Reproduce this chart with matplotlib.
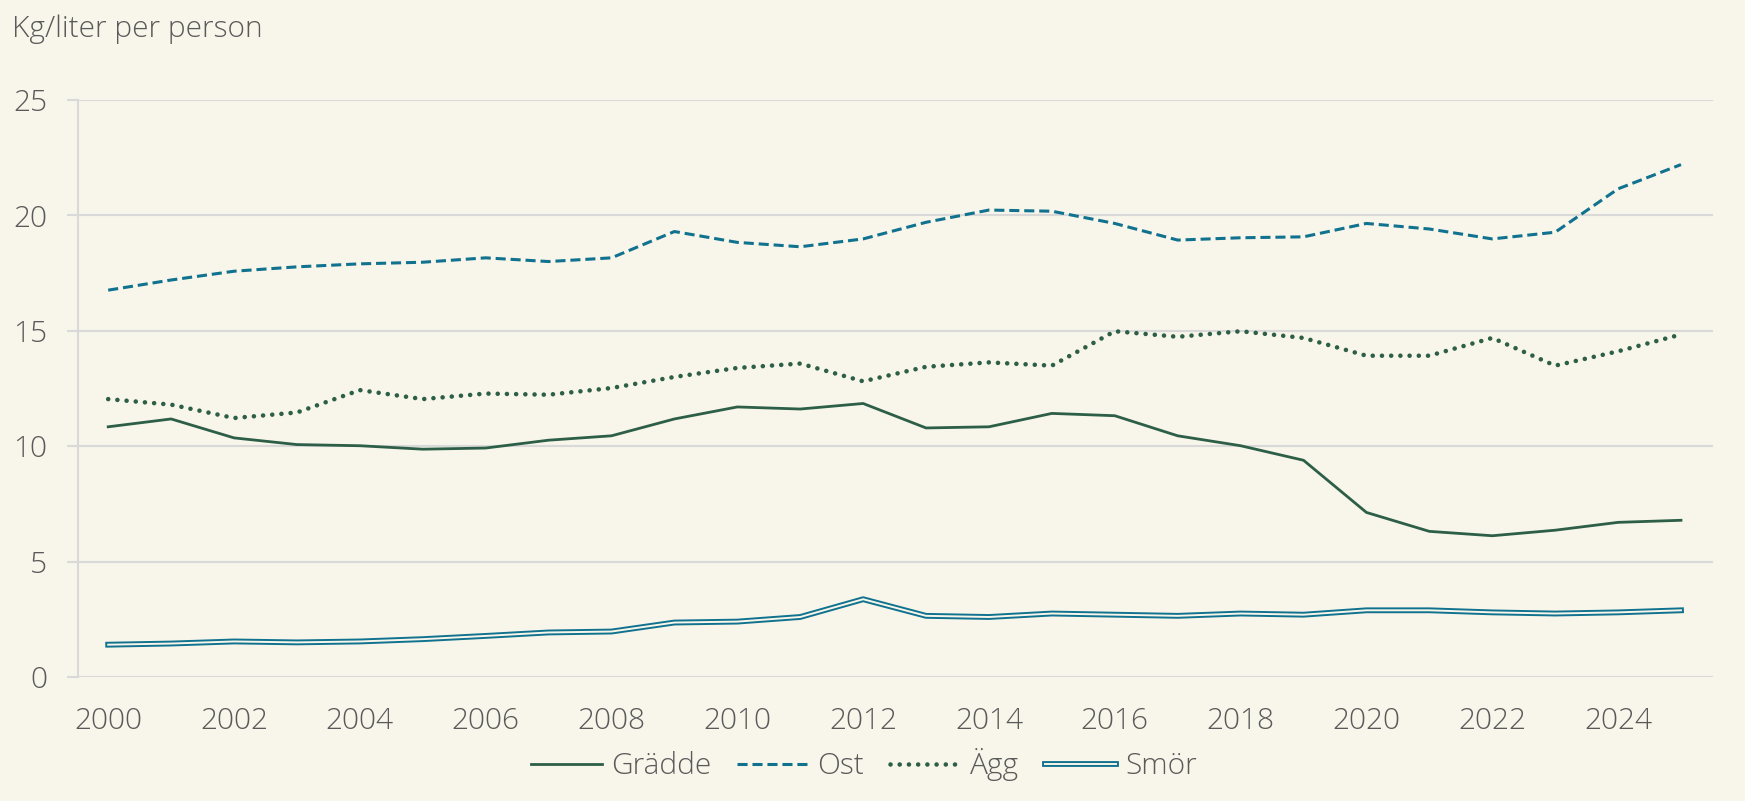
import matplotlib
matplotlib.use("Agg")
import matplotlib.pyplot as plt
import matplotlib.patheffects as pe

# data
years = list(range(2000, 2026))
gradde = [10.84, 11.18, 10.36, 10.07, 10.02, 9.87, 9.92, 10.26, 10.45, 11.18,
          11.70, 11.61, 11.85, 10.79, 10.84, 11.42, 11.32, 10.45, 10.02, 9.39,
          7.13, 6.31, 6.12, 6.36, 6.70, 6.79]
ost = [16.76, 17.20, 17.58, 17.77, 17.90, 17.97, 18.16, 18.00, 18.16, 19.30,
       18.83, 18.64, 18.98, 19.70, 20.23, 20.18, 19.65, 18.93, 19.03, 19.07,
       19.65, 19.41, 18.98, 19.27, 21.15, 22.20]
agg = [12.04, 11.80, 11.22, 11.46, 12.43, 12.04, 12.28, 12.23, 12.52, 13.00,
       13.39, 13.58, 12.81, 13.44, 13.63, 13.49, 14.98, 14.74, 14.98, 14.69,
       13.92, 13.92, 14.69, 13.49, 14.11, 14.84]
smor = [1.40, 1.45, 1.54, 1.50, 1.54, 1.64, 1.78, 1.93, 1.97, 2.36,
        2.40, 2.60, 3.37, 2.65, 2.60, 2.75, 2.70, 2.65, 2.75, 2.70,
        2.89, 2.89, 2.80, 2.75, 2.80, 2.89]
xticks = list(range(2000, 2026, 2))
yticks = [0, 5, 10, 15, 20, 25]

bg = "#f8f6ea"
green = "#2d5e47"
teal = "#10728f"
grey = "#5a5a5a"
gridc = "#d9d9d9"

plt.rcParams['font.family'] = ['Open Sans', 'DejaVu Sans']
plt.rcParams['font.weight'] = 'light'
fs = 21.5

fig = plt.figure(figsize=(17.45, 8.01), dpi=100, facecolor=bg)
ax = fig.add_axes([0.0447, 0.1548, 0.9370, 0.7204])
ax.set_facecolor(bg)

ax.plot(years, gradde, color=green, lw=2.0, label="Grädde",
        solid_joinstyle="round")
ax.plot(years, ost, color=teal, lw=2.2, ls=(0, (3.3, 1.6)), label="Ost")
ax.plot(years, agg, color=green, lw=3.3, ls=(0, (0.01, 2.0)),
        dash_capstyle="round", label="Ägg")
ax.plot(years, smor, color=bg, lw=1.4, label="Smör",
        path_effects=[pe.Stroke(linewidth=4.2, foreground=teal), pe.Normal()])

ax.set_xlim(1999.52, 2025.51)
ax.set_ylim(0, 25)
ax.set_xticks(xticks)
ax.set_yticks(yticks)
ax.grid(axis="y", color=gridc, lw=1.5)
ax.set_axisbelow(True)
for s in ["top", "right", "bottom"]:
    ax.spines[s].set_visible(False)
ax.spines["left"].set_color(gridc)
ax.spines["left"].set_linewidth(1.5)
ax.tick_params(axis="x", length=0, pad=21, labelsize=fs, labelcolor=grey)
ax.tick_params(axis="y", length=8, width=1.5, color=gridc, pad=14,
               labelsize=fs, labelcolor=grey)

fig.text(0.007, 0.982, "Kg/liter per person", fontsize=fs, color=grey,
         va="top", ha="left")

fig.legend(loc="center", bbox_to_anchor=(0.495, 0.045), ncol=4,
           frameon=False, fontsize=fs, labelcolor=grey, handlelength=2.4,
           handletextpad=0.3, columnspacing=0.85)

fig.savefig("out.png", dpi=100, facecolor=bg)
